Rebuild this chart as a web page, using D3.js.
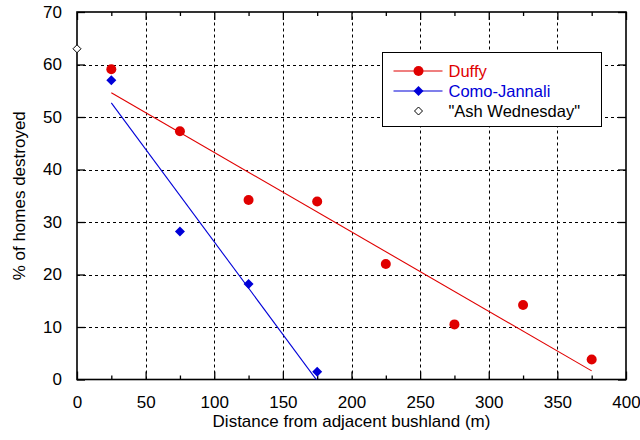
<!doctype html>
<html>
  <head>
    <meta charset="utf-8">
    <title>Homes destroyed vs distance from bushland</title>
    <script src="https://cdnjs.cloudflare.com/ajax/libs/d3/7.8.5/d3.min.js"></script>
    <style>
      body { margin: 0; background: #fff; }
      text { font-family: "Liberation Sans", Arial, sans-serif; }
    </style>
  </head>
  <body>
    <div id="chart"></div>
    <script>
      // data
      const duffyX = [25, 75, 125, 175, 225, 275, 325, 375];
      const duffyY = [59.1, 47.3, 34.2, 33.9, 22.0, 10.5, 14.2, 3.8];
      const comoX = [25, 75, 125, 175];
      const comoY = [57.0, 28.2, 18.2, 1.5];
      const ashX = [0];
      const ashY = [63.0];
      const xTicks = [0, 50, 100, 150, 200, 250, 300, 350, 400];
      const xMinor = [25, 75, 125, 175, 225, 275, 325, 375];
      const yTicks = [0, 10, 20, 30, 40, 50, 60, 70];

      const red = '#e00000', blue = '#0000d8';
      const W = 640, H = 440;
      const m = { left: 77, right: 14, top: 12, bottom: 60.5 };

      const svg = d3.select('#chart').append('svg')
        .attr('width', W).attr('height', H);

      const x = d3.scaleLinear().domain([0, 400]).range([m.left, W - m.right]);
      const y = d3.scaleLinear().domain([0, 70]).range([H - m.bottom, m.top]);

      svg.append('clipPath').attr('id', 'plot')
        .append('rect')
        .attr('x', x(0)).attr('y', y(70))
        .attr('width', x(400) - x(0)).attr('height', y(0) - y(70));

      // dashed grid
      const grid = svg.append('g').attr('stroke', '#000').attr('stroke-width', 1)
        .attr('stroke-dasharray', '3,3');
      grid.selectAll('.gx').data(xTicks.slice(1, -1)).join('line')
        .attr('x1', d => Math.round(x(d)) + 0.5).attr('x2', d => Math.round(x(d)) + 0.5)
        .attr('y1', y(0)).attr('y2', y(70));
      grid.selectAll('.gy').data(yTicks.slice(1, -1)).join('line')
        .attr('y1', d => Math.round(y(d)) + 0.5).attr('y2', d => Math.round(y(d)) + 0.5)
        .attr('x1', x(0)).attr('x2', x(400));

      // axes with inward ticks
      svg.append('g').attr('transform', `translate(0,${y(0)})`)
        .call(d3.axisBottom(x).tickValues(xTicks).tickSize(-8).tickPadding(16));
      svg.append('g').attr('transform', `translate(0,${y(0)})`)
        .call(d3.axisBottom(x).tickValues(xMinor).tickSize(-4).tickFormat(''));
      svg.append('g').attr('transform', `translate(0,${y(70)})`)
        .call(d3.axisTop(x).tickValues(xTicks).tickSize(-8).tickFormat(''));
      svg.append('g').attr('transform', `translate(0,${y(70)})`)
        .call(d3.axisTop(x).tickValues(xMinor).tickSize(-4).tickFormat(''));
      svg.append('g').attr('transform', `translate(${x(0)},0)`)
        .call(d3.axisLeft(y).tickValues(yTicks).tickSize(-8).tickPadding(15));
      svg.append('g').attr('transform', `translate(${x(400)},0)`)
        .call(d3.axisRight(y).tickValues(yTicks).tickSize(-8).tickFormat(''));
      svg.selectAll('.domain').remove();
      svg.selectAll('.tick line').attr('stroke', '#000').attr('stroke-width', 1.3);
      svg.selectAll('.tick text').attr('font-size', 17).attr('fill', '#000')
        .style('font-family', '"Liberation Sans", Arial, sans-serif');

      svg.append('rect')
        .attr('x', x(0)).attr('y', y(70))
        .attr('width', x(400) - x(0)).attr('height', y(0) - y(70))
        .attr('fill', 'none').attr('stroke', '#000').attr('stroke-width', 1.6);

      // least-squares trend lines from the data
      function fit(xs, ys) {
        const mx = d3.mean(xs), my = d3.mean(ys);
        const sxy = d3.sum(xs, (v, i) => (v - mx) * (ys[i] - my));
        const sxx = d3.sum(xs, v => (v - mx) * (v - mx));
        const b = sxy / sxx;
        return v => my + b * (v - mx);
      }
      const duffyFit = fit(duffyX, duffyY);
      const comoFit = fit(comoX, comoY);
      const line = d3.line().x(d => x(d[0])).y(d => y(d[1]));

      const lines = svg.append('g').attr('clip-path', 'url(#plot)').attr('fill', 'none');
      lines.append('path')
        .attr('d', line(d3.extent(duffyX).map(v => [v, duffyFit(v)])))
        .attr('stroke', red).attr('stroke-width', 1.1);
      lines.append('path')
        .attr('d', line(d3.extent(comoX).map(v => [v, comoFit(v)])))
        .attr('stroke', blue).attr('stroke-width', 1.1);

      const diamond = s => `M0,${-s}L${s},0L0,${s}L${-s},0Z`;

      // markers
      svg.append('g').selectAll('circle').data(duffyX).join('circle')
        .attr('cx', d => x(d)).attr('cy', (d, i) => y(duffyY[i]))
        .attr('r', 5).attr('fill', red);
      svg.append('g').selectAll('path').data(comoX).join('path')
        .attr('transform', (d, i) => `translate(${x(d)},${y(comoY[i])})`)
        .attr('d', diamond(5)).attr('fill', blue);
      svg.append('g').selectAll('path').data(ashX).join('path')
        .attr('transform', (d, i) => `translate(${x(d)},${y(ashY[i])})`)
        .attr('d', diamond(4)).attr('fill', '#fff').attr('stroke', '#000').attr('stroke-width', 1);

      // legend
      const lg = svg.append('g').attr('transform', 'translate(382.5,52.5)');
      lg.append('rect').attr('width', 219).attr('height', 74)
        .attr('fill', '#fff').attr('stroke', '#000').attr('stroke-width', 1);
      const items = [
        { name: 'Duffy', color: red, kind: 'circle' },
        { name: 'Como-Jannali', color: blue, kind: 'diamond' },
        { name: '"Ash Wednesday"', color: '#000', kind: 'open' }
      ];
      items.forEach((it, i) => {
        const cy = 18.5 + i * 20;
        if (it.kind !== 'open') {
          lg.append('line').attr('x1', 11).attr('x2', 60).attr('y1', cy).attr('y2', cy)
            .attr('stroke', it.color).attr('stroke-width', 1.1);
        }
        if (it.kind === 'circle') {
          lg.append('circle').attr('cx', 36).attr('cy', cy).attr('r', 5).attr('fill', it.color);
        } else if (it.kind === 'diamond') {
          lg.append('path').attr('transform', `translate(36,${cy})`).attr('d', diamond(5)).attr('fill', it.color);
        } else {
          lg.append('path').attr('transform', `translate(36,${cy})`).attr('d', diamond(4))
            .attr('fill', '#fff').attr('stroke', '#000');
        }
        lg.append('text').attr('x', 66).attr('y', cy + 6)
          .attr('font-size', 16.5).attr('fill', it.color).text(it.name);
      });

      // axis titles
      svg.append('text')
        .attr('x', (x(0) + x(400)) / 2).attr('y', 427)
        .attr('text-anchor', 'middle').attr('font-size', 17)
        .text('Distance from adjacent bushland (m)');
      svg.append('text')
        .attr('transform', `translate(25,${(y(0) + y(70)) / 2}) rotate(-90)`)
        .attr('text-anchor', 'middle').attr('font-size', 17)
        .text('% of homes destroyed');
    </script>
  </body>
</html>
